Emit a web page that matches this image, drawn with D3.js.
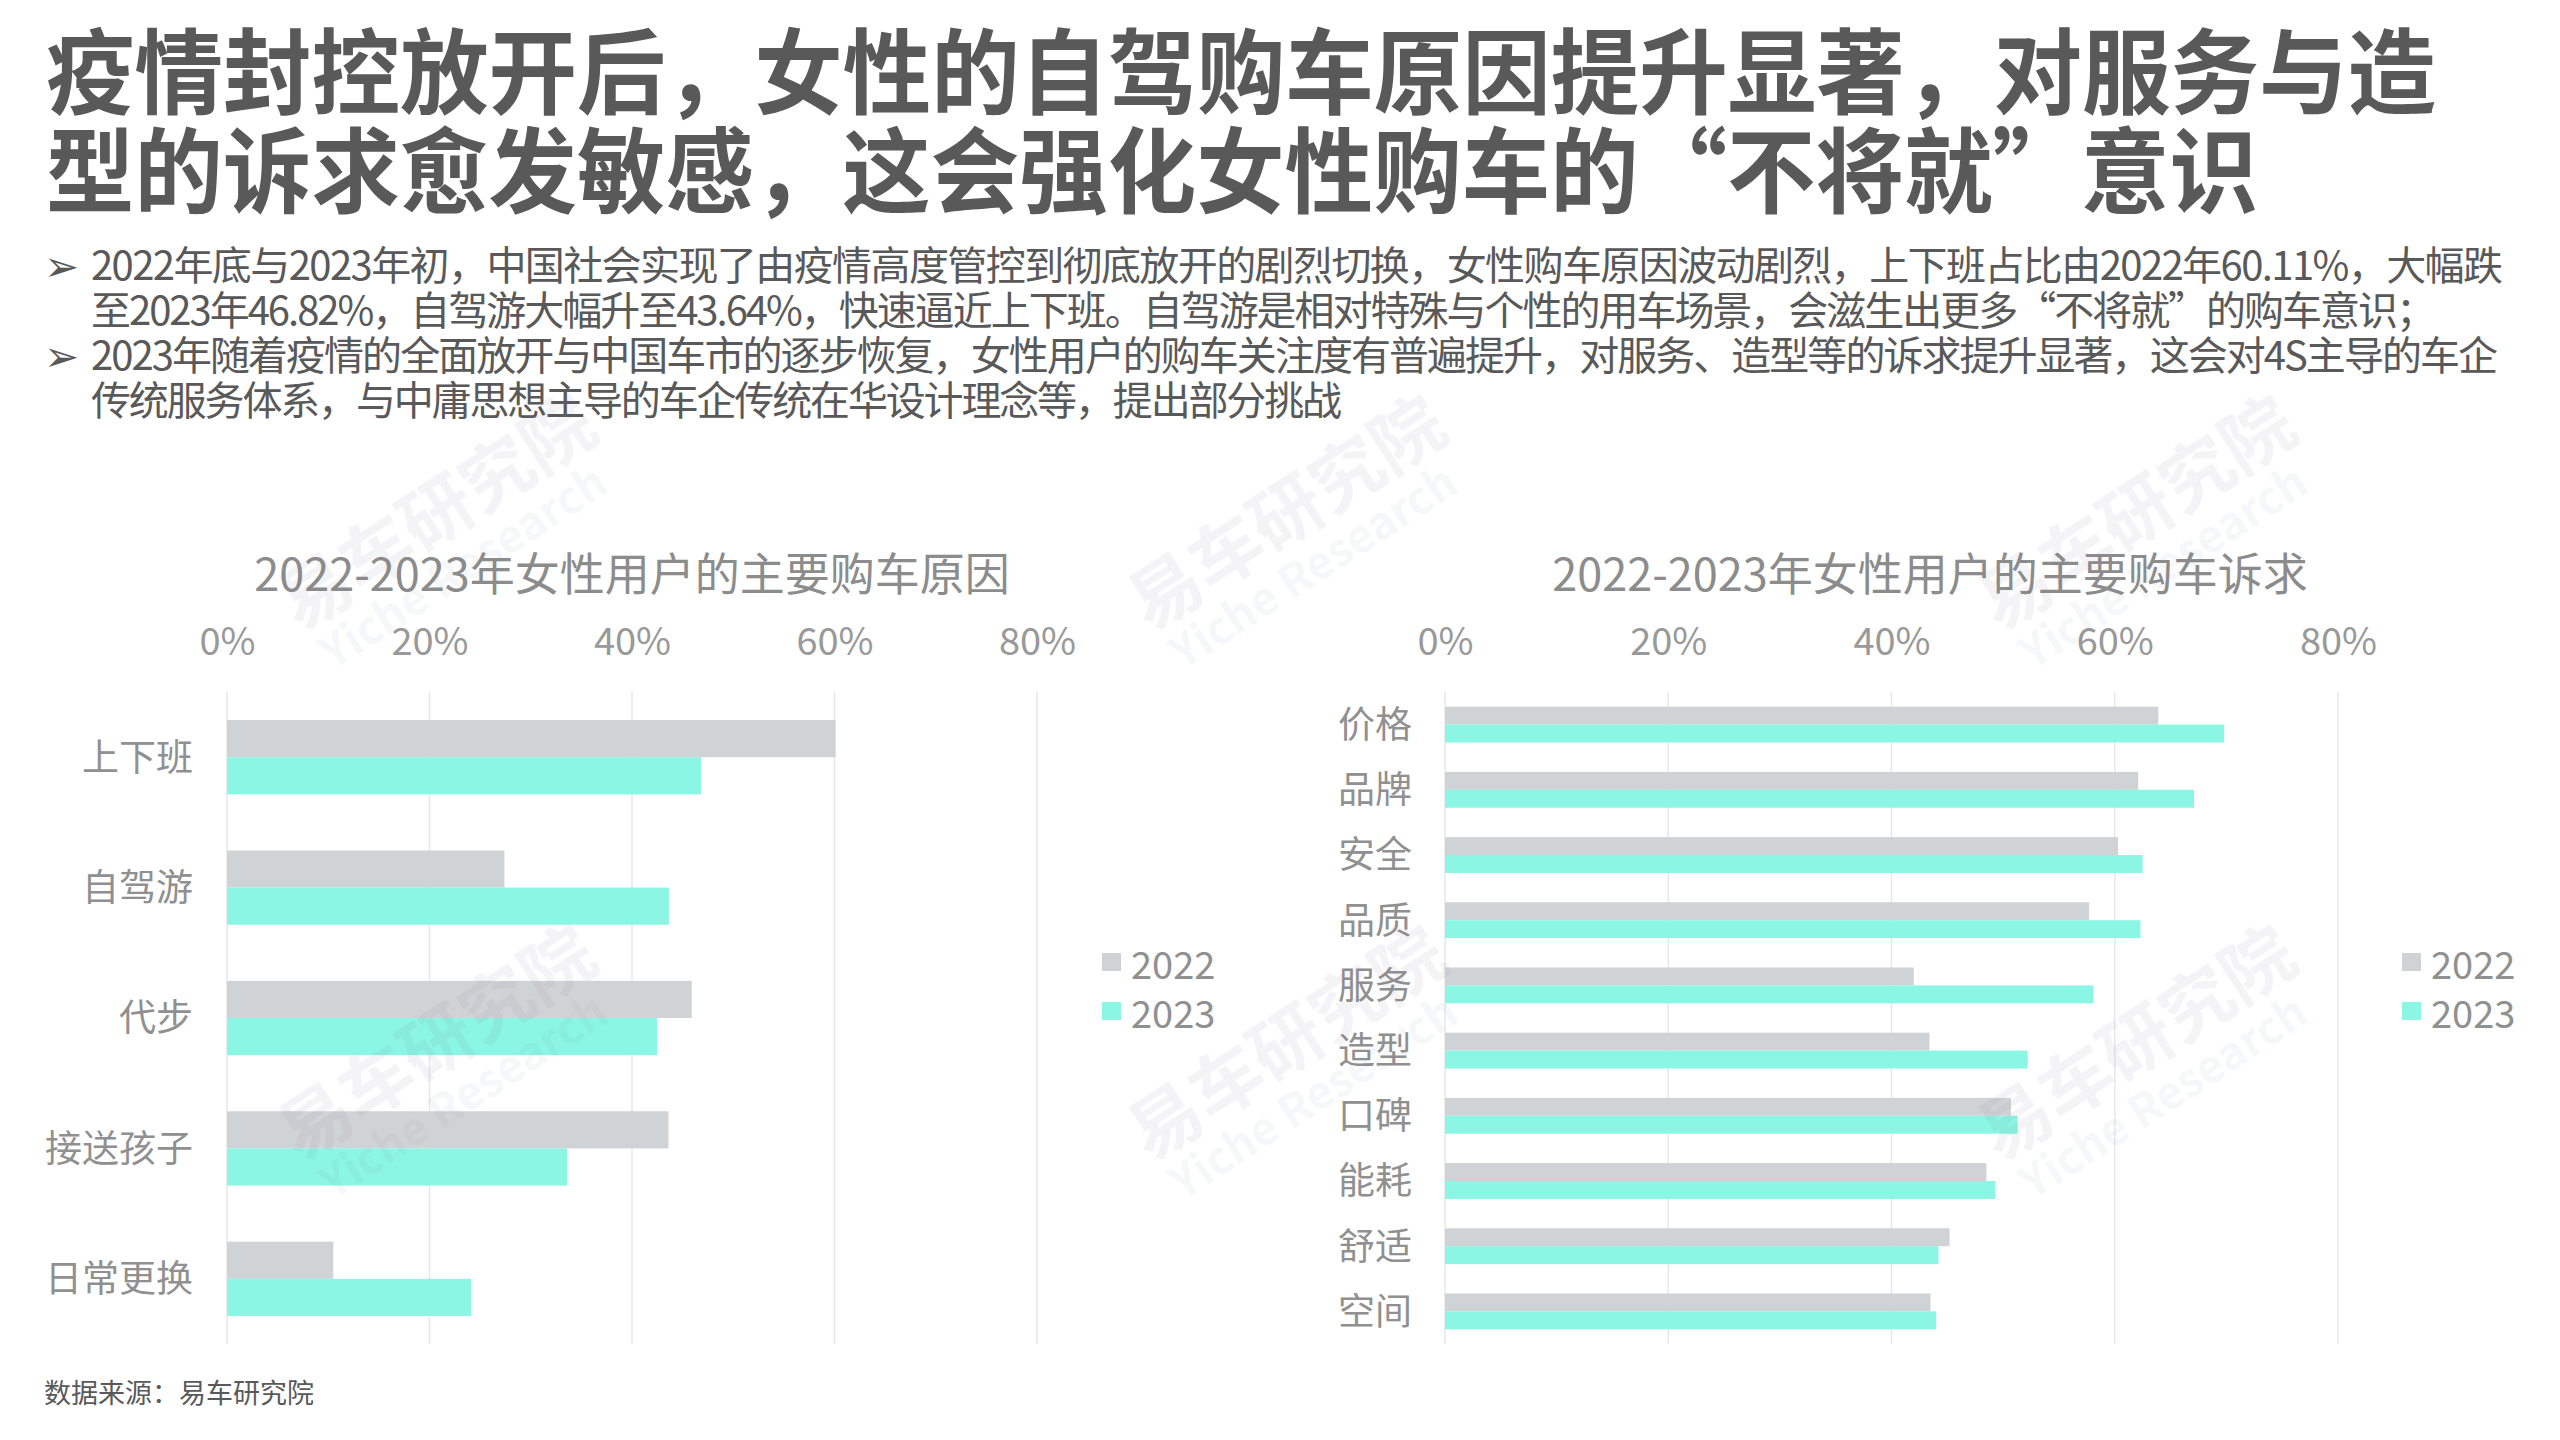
<!DOCTYPE html>
<html>
<head>
<meta charset="utf-8">
<script src="https://cdn.jsdelivr.net/npm/d3@7"></script>
<style>
  html, body { margin: 0; padding: 0; background: #ffffff; }
  svg { display: block; }
  text { font-family: "Noto Sans CJK SC", "Noto Sans", sans-serif; }
</style>
</head>
<body>
<svg id="chart" width="2560" height="1440"></svg>
<script>
// ---------------- DATA ----------------
const titleLines = [
  "疫情封控放开后，女性的自驾购车原因提升显著，对服务与造",
  "型的诉求愈发敏感，这会强化女性购车的“不将就”意识"
];
const bulletLines = [
  ["2022年底与2023年初，中国社会实现了由疫情高度管控到彻底放开的剧烈切换，女性购车原因波动剧烈，上下班占比由2022年60.11%，大幅跌",
   "至2023年46.82%，自驾游大幅升至43.64%，快速逼近上下班。自驾游是相对特殊与个性的用车场景，会滋生出更多“不将就”的购车意识；"],
  ["2023年随着疫情的全面放开与中国车市的逐步恢复，女性用户的购车关注度有普遍提升，对服务、造型等的诉求提升显著，这会对4S主导的车企",
   "传统服务体系，与中庸思想主导的车企传统在华设计理念等，提出部分挑战"]
];
const sourceText = "数据来源：易车研究院";
const seriesNames = ["2022", "2023"];
const tickValues = [0, 0.2, 0.4, 0.6, 0.8];

const leftTitle = "2022-2023年女性用户的主要购车原因";
const reasonCategories = ["上下班", "自驾游", "代步", "接送孩子", "日常更换"];
const reason2022 = [60.11, 27.4, 45.9, 43.6, 10.5];
const reason2023 = [46.82, 43.64, 42.5, 33.6, 24.1];

const rightTitle = "2022-2023年女性用户的主要购车诉求";
const demandCategories = ["价格", "品牌", "安全", "品质", "服务", "造型", "口碑", "能耗", "舒适", "空间"];
const demand2022 = [63.9, 62.1, 60.3, 57.7, 42.0, 43.4, 50.7, 48.5, 45.2, 43.5];
const demand2023 = [69.8, 67.1, 62.5, 62.3, 58.1, 52.2, 51.3, 49.3, 44.2, 44.0];

const watermarkMain = "易车研究院";
const watermarkSub = "Yiche Research";

// ---------------- STYLE ----------------
const COLORS = { s2022: "#D0D3D6", s2023: "#8AF6E3", dark: "#595959", label: "#909090", grid: "#E8E8E8" };

const svg = d3.select("#chart");

// Title
const titleWidths = [2390, 2212];
svg.append("g").selectAll("text").data(titleLines).join("text")
  .attr("x", 46)
  .attr("y", (d, i) => 107 + i * 99)
  .attr("font-size", 93)
  .attr("font-weight", 700)
  .attr("fill", COLORS.dark)
  .attr("textLength", (d, i) => titleWidths[i])
  .attr("lengthAdjust", "spacingAndGlyphs")
  .text(d => d);

// Bullets
const bulletTargets = [[2412, 2345], [2407, 1251]];
const bulletG = svg.append("g");
bulletLines.forEach((lines, bi) => {
  const baseY = 280 + bi * 90;
  bulletG.append("text")
    .attr("x", 44).attr("y", baseY + 1)
    .attr("font-family", "DejaVu Sans")
    .attr("font-size", 42)
    .attr("fill", COLORS.dark)
    .text("➢");
  lines.forEach((ln, li) => {
    bulletG.append("text")
      .attr("x", 91).attr("y", baseY + li * 45)
      .attr("font-size", 40)
      .attr("fill", COLORS.dark)
      .attr("textLength", bulletTargets[bi][li])
      .attr("lengthAdjust", "spacing")
      .text(ln);
  });
});

// Source
svg.append("text")
  .attr("x", 44).attr("y", 1403)
  .attr("font-size", 27)
  .attr("fill", COLORS.dark)
  .text(sourceText);

// ---------------- CHART FUNCTION ----------------
function drawChart(opts) {
  const { x0, x1, y0, y1, cats, v22, v23, title, titleX, labelRight, pInner, legendX } = opts;
  const g = svg.append("g");
  const x = d3.scaleLinear().domain([0, 0.8]).range([x0, x1]);
  const y = d3.scaleBand().domain(cats).range([y0, y1]).paddingInner(pInner).paddingOuter(pInner / 2);

  // title
  g.append("text")
    .attr("x", titleX).attr("y", 591)
    .attr("text-anchor", "middle")
    .attr("font-size", 45)
    .attr("fill", "#8C8C8C")
    .text(title);

  // gridlines
  g.append("g").selectAll("line").data(tickValues).join("line")
    .attr("x1", d => x(d)).attr("x2", d => x(d))
    .attr("y1", y0).attr("y2", y1)
    .attr("stroke", COLORS.grid).attr("stroke-width", 1.5);

  // top axis labels
  const axis = d3.axisTop(x).tickValues(tickValues).tickFormat(d3.format(".0%")).tickSize(0);
  const ax = g.append("g").attr("transform", `translate(0,${658})`).call(axis);
  ax.select(".domain").remove();
  ax.selectAll("text")
    .attr("font-size", 38)
    .attr("fill", "#999999")
    .attr("dy", 0)
    .attr("font-family", "\"Noto Sans CJK SC\", sans-serif");

  const bh = y.bandwidth() / 2;
  // bars 2022
  g.append("g").selectAll("rect").data(cats).join("rect")
    .attr("x", x(0)).attr("y", d => y(d))
    .attr("width", (d, i) => x(v22[i] / 100) - x(0))
    .attr("height", bh)
    .attr("fill", COLORS.s2022);
  // bars 2023
  g.append("g").selectAll("rect").data(cats).join("rect")
    .attr("x", x(0)).attr("y", d => y(d) + bh)
    .attr("width", (d, i) => x(v23[i] / 100) - x(0))
    .attr("height", bh)
    .attr("fill", COLORS.s2023);

  // category labels
  g.append("g").selectAll("text").data(cats).join("text")
    .attr("x", labelRight)
    .attr("y", d => y(d) + y.bandwidth() / 2)
    .attr("dy", "0.36em")
    .attr("text-anchor", "end")
    .attr("font-size", 37)
    .attr("fill", COLORS.label)
    .text(d => d);

  // legend
  const lg = g.append("g");
  seriesNames.forEach((s, i) => {
    lg.append("rect")
      .attr("x", legendX).attr("y", 953 + i * 49)
      .attr("width", 19).attr("height", 18)
      .attr("fill", i === 0 ? COLORS.s2022 : COLORS.s2023);
    lg.append("text")
      .attr("x", legendX + 29).attr("y", 979 + i * 49)
      .attr("font-size", 38)
      .attr("fill", COLORS.label)
      .text(s);
  });
}

drawChart({ x0: 227, x1: 1037, y0: 692, y1: 1344, cats: reasonCategories, v22: reason2022, v23: reason2023,
  title: leftTitle, titleX: 632, labelRight: 193, pInner: 0.43, legendX: 1102 });
drawChart({ x0: 1445, x1: 2338, y0: 692, y1: 1344, cats: demandCategories, v22: demand2022, v23: demand2023,
  title: rightTitle, titleX: 1930, labelRight: 1412, pInner: 0.45, legendX: 2402 });

// ---------------- WATERMARKS ----------------
const wmPositions = [[460, 549], [1310, 549], [2160, 549], [460, 1079], [1310, 1079], [2160, 1079]];
const wm = svg.append("g").attr("pointer-events", "none");
wmPositions.forEach(([cx, cy]) => {
  const w = wm.append("g").attr("transform", `translate(${cx},${cy}) rotate(-33)`);
  w.append("text").attr("x", 0).attr("y", -17).attr("text-anchor", "middle")
    .attr("font-size", 72).attr("font-weight", 700)
    .attr("fill", "#7a8595").attr("fill-opacity", 0.085).text(watermarkMain);
  w.append("text").attr("x", -7).attr("y", 33).attr("text-anchor", "middle")
    .attr("font-size", 45).attr("font-weight", 700)
    .attr("font-family", "\"Open Sans\", sans-serif")
    .attr("fill", "#7a8595").attr("fill-opacity", 0.085).text(watermarkSub);
});
</script>
</body>
</html>
